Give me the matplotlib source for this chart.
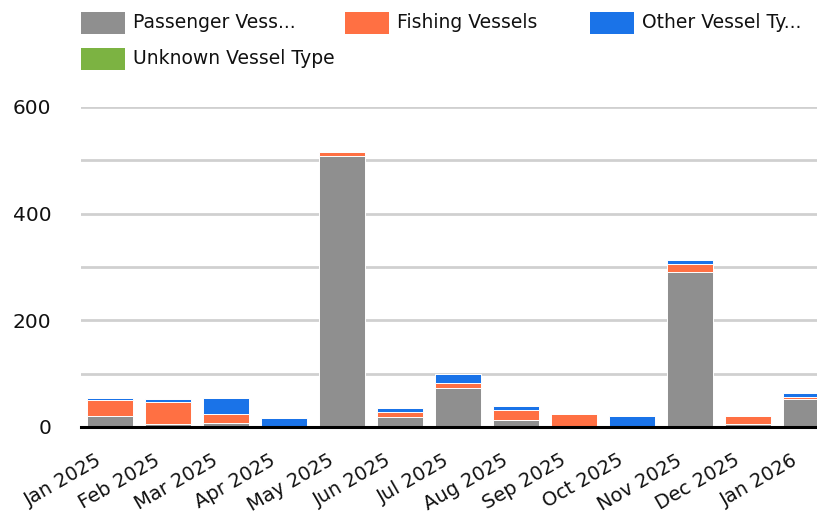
import matplotlib
matplotlib.use("Agg")
import matplotlib.pyplot as plt
import matplotlib.transforms as mtransforms
from matplotlib.patches import Rectangle
import numpy as np

months = ["Jan 2025", "Feb 2025", "Mar 2025", "Apr 2025", "May 2025", "Jun 2025",
          "Jul 2025", "Aug 2025", "Sep 2025", "Oct 2025", "Nov 2025", "Dec 2025", "Jan 2026"]
passenger = [21, 6, 7, 0, 509, 18, 73, 13, 0, 0, 291, 6, 52]
fishing = [29, 41, 18, 2, 7, 10, 9, 19, 25, 2, 15, 15, 5]
other = [4, 6, 29, 15, 0, 7, 17, 7, 0, 18, 8, 0, 7]
unknown = [0, 0, 0, 0, 0, 0, 0, 0, 0, 0, 0, 0, 0]
series_labels = ["Passenger Vess...", "Fishing Vessels", "Other Vessel Ty...", "Unknown Vessel Type"]
colors = ["#8f8f8f", "#ff7043", "#1a73e8", "#7cb342"]
yticks = [0, 100, 200, 300, 400, 500, 600]
ytick_labels = ["0", "", "200", "", "400", "", "600"]

plt.rcParams['font.family'] = ['DejaVu Sans']
W, H = 817, 518
fig = plt.figure(figsize=(W / 100, H / 100), dpi=100)

# axes in pixel coordinates
x0, x1 = 81, 835
y_top, y_bot = 107, 427
ax = fig.add_axes([x0 / W, 1 - y_bot / H, (x1 - x0) / W, (y_bot - y_top) / H])

x = np.arange(len(months))
bottom = np.zeros(len(months))
for vals, c in zip([passenger, fishing, other, unknown], colors):
    v = np.array(vals, dtype=float)
    ax.bar(x, v, width=0.79, bottom=bottom, color=c, edgecolor="white", linewidth=0.7, zorder=3)
    bottom += v

ax.set_xlim(-0.5, len(months) - 0.5)
ax.set_ylim(0, 600)
ax.set_yticks(yticks)
ax.set_yticklabels(ytick_labels, fontsize=14.5, color="#111111")
ax.yaxis.grid(True, color="#d0d0d0", linewidth=2, zorder=0)
ax.set_axisbelow(True)
for s in ["top", "right", "left"]:
    ax.spines[s].set_visible(False)
ax.spines["bottom"].set_linewidth(2.2)
ax.spines["bottom"].set_color("black")
ax.spines["bottom"].set_zorder(5)
ax.tick_params(axis="y", length=0, pad=21.5)
ax.tick_params(axis="x", length=0, pad=23)
ax.set_xticks(x)
ax.set_xticklabels(months, fontsize=14, rotation=30, ha="right", va="center",
                   rotation_mode="anchor", color="#111111")
offset = mtransforms.ScaledTranslation(-10 / 100, 0, fig.dpi_scale_trans)
for lbl in ax.get_xticklabels():
    lbl.set_transform(lbl.get_transform() + offset)

# legend (manual, Chart.js style)
legend_pos = [(81, 12), (345, 12), (590, 12), (81, 48)]
for (lx, ly), lab, c in zip(legend_pos, series_labels, colors):
    fig.add_artist(Rectangle((lx / W, 1 - (ly + 22) / H), 44 / W, 22 / H,
                             transform=fig.transFigure, facecolor=c, edgecolor="none"))
    fig.text((lx + 52) / W, 1 - (ly + 11) / H, lab, fontsize=13.5, ha="left",
             va="center", color="#111111")

fig.savefig("out.png", dpi=100)
